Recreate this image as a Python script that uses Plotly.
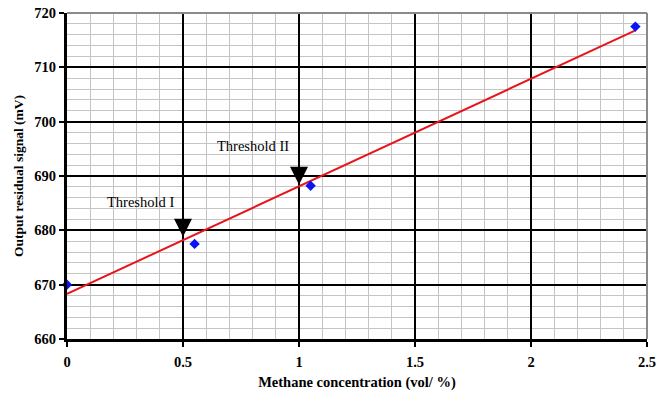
import plotly.graph_objects as go

conc = [0, 0.55, 1.05, 2.45]
signal = [670.0, 677.5, 688.2, 717.5]
fit_x = [0, 2.45]
fit_y = [668.3, 716.8]
x_ticks = [0, 0.5, 1, 1.5, 2, 2.5]
x_tick_text = ["0", "0.5", "1", "1.5", "2", "2.5"]
y_ticks = [660, 670, 680, 690, 700, 710, 720]
thresholds = [
    {"label": "Threshold I", "x": 0.5, "y_top": 686.0, "y_tip": 678.8, "tx": 0.315, "ty": 685.3},
    {"label": "Threshold II", "x": 1.0, "y_top": 695.4, "y_tip": 688.4, "tx": 0.80, "ty": 695.5},
]

serif = "Liberation Serif, Times New Roman, serif"

fig = go.Figure()
fig.add_trace(go.Scatter(x=fit_x, y=fit_y, mode="lines",
                         line=dict(color="#e8141c", width=2), showlegend=False))
fig.add_trace(go.Scatter(x=conc, y=signal, mode="markers",
                         marker=dict(symbol="diamond", color="#0a14f0", size=8),
                         showlegend=False, cliponaxis=False))

for t in thresholds:
    fig.add_annotation(x=t["x"], y=t["y_tip"], ax=t["x"], ay=t["y_top"],
                       xref="x", yref="y", axref="x", ayref="y",
                       showarrow=True, arrowhead=2, arrowsize=1.8, arrowwidth=2,
                       arrowcolor="black", text="")
    fig.add_annotation(x=t["tx"], y=t["ty"], xref="x", yref="y", text=t["label"],
                       showarrow=False, font=dict(family=serif, size=14.5, color="black"))

# top and right frame lines (gray)
fig.add_shape(type="line", xref="x domain", yref="y domain", x0=0, x1=1, y0=1, y1=1,
              line=dict(color="#8a8a8a", width=2))
fig.add_shape(type="line", xref="x domain", yref="y domain", x0=1, x1=1, y0=0, y1=1,
              line=dict(color="#8a8a8a", width=2))

fig.update_xaxes(range=[0, 2.5], tickvals=x_ticks, ticktext=x_tick_text,
                 automargin=False,
                 showgrid=True, gridcolor="black", gridwidth=2,
                 minor=dict(dtick=0.1, showgrid=True, gridcolor="#c4c4c4", gridwidth=1),
                 showline=True, linecolor="black", linewidth=3,
                 ticks="outside", ticklen=5, tickwidth=2, tickcolor="black",
                 ticklabelstandoff=3,
                 zeroline=False,
                 tickfont=dict(family=serif, size=14.5, color="black", weight="bold"),
                 title=dict(text="Methane concentration (vol/ %)", standoff=8,
                            font=dict(family=serif, size=14.5, color="black", weight="bold")))
fig.update_yaxes(range=[660, 720], tickvals=y_ticks,
                 automargin=False,
                 showgrid=True, gridcolor="black", gridwidth=2,
                 minor=dict(dtick=2, showgrid=True, gridcolor="#c4c4c4", gridwidth=1),
                 showline=True, linecolor="black", linewidth=3,
                 ticks="outside", ticklen=5, tickwidth=2, tickcolor="black",
                 zeroline=False,
                 tickfont=dict(family=serif, size=14.5, color="black", weight="bold"),
                 title=dict(text="Output residual signal (mV)", standoff=8,
                            font=dict(family=serif, size=13.5, color="black", weight="bold")))

fig.update_layout(width=668, height=396, margin=dict(l=67, r=21, t=13, b=57),
                  plot_bgcolor="white", paper_bgcolor="white")

fig.write_html("out.html", config={"displayModeBar": False},
               post_script="document.body.style.margin='0';")
